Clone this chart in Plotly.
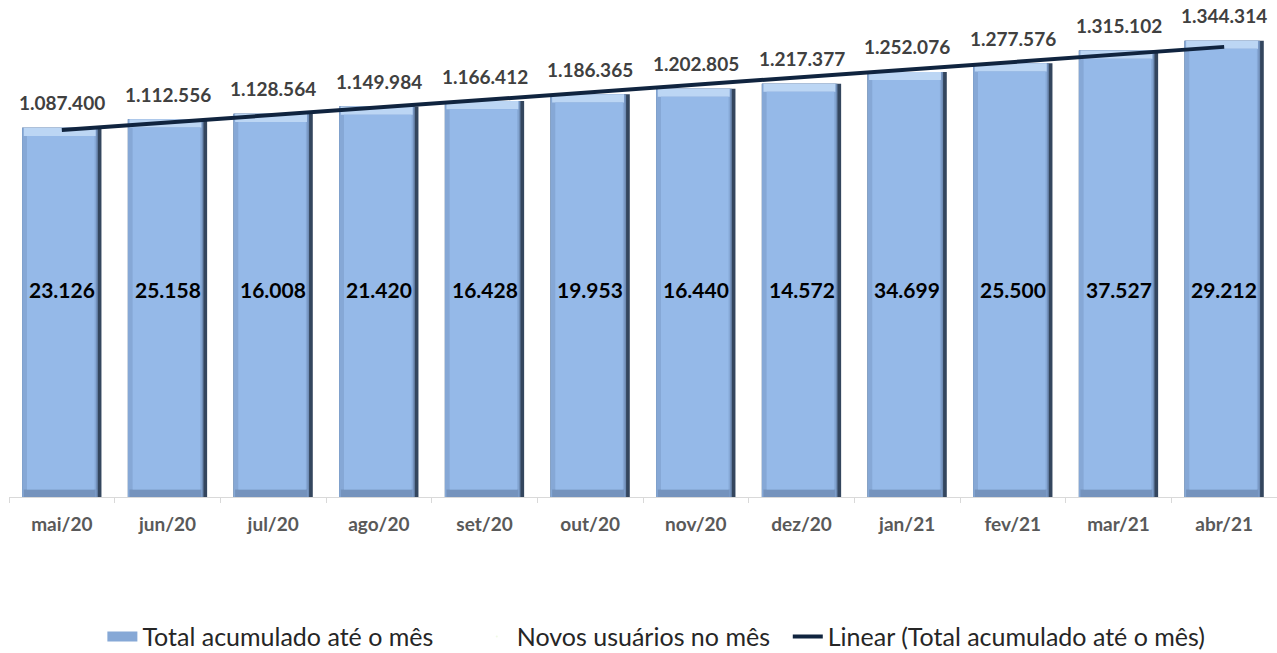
import numpy as np
import plotly.graph_objects as go

months = ["mai/20", "jun/20", "jul/20", "ago/20", "set/20", "out/20",
          "nov/20", "dez/20", "jan/21", "fev/21", "mar/21", "abr/21"]
total = [1087400, 1112556, 1128564, 1149984, 1166412, 1186365,
         1202805, 1217377, 1252076, 1277576, 1315102, 1344314]
novos = [23126, 25158, 16008, 21420, 16428, 19953,
         16440, 14572, 34699, 25500, 37527, 29212]


def br(n):
    # 1087400 -> 1.087.400
    return f"{n:,}".replace(",", ".")


tot = np.array(total, dtype=float)
n = len(months)
FONT = "Lato"
TOP = 24000   # height of the light top bevel
BOT = 22000   # height of the darker bottom bevel
NB = "\u00a0"

fig = go.Figure()

# bevelled bars built from overlaid layers
fig.add_trace(go.Bar(x=months, y=tot, width=0.75, marker_color="#34465e",
                     marker_line_width=0, showlegend=False, hoverinfo="skip"))
fig.add_trace(go.Bar(x=months, y=tot, width=0.715, offset=-0.375,
                     marker_color="#6f8db6", marker_line_width=0,
                     showlegend=False, hoverinfo="skip"))
fig.add_trace(go.Bar(x=months, y=tot, width=0.70, offset=-0.375,
                     marker_color="#86a8d6", marker_line_width=0,
                     showlegend=False, hoverinfo="skip"))
fig.add_trace(go.Bar(x=months, y=[TOP] * n, base=tot - TOP, width=0.68,
                     offset=-0.36, marker_color="#bcd6f4", marker_line_width=0,
                     showlegend=False, hoverinfo="skip"))
fig.add_trace(go.Bar(x=months, y=[BOT] * n, base=[0] * n, width=0.68,
                     offset=-0.36, marker_color="#7593bd", marker_line_width=0,
                     showlegend=False, hoverinfo="skip"))
fig.add_trace(go.Bar(x=months, y=tot - BOT - TOP, base=[BOT] * n,
                     width=0.64, offset=-0.33, marker_color="#95b9e8",
                     marker_line_width=0, showlegend=False))

# legend entries (a wide swatch for the bars, an empty one for the text series)
fig.add_trace(go.Scatter(x=[None], y=[None], mode="lines",
                         line=dict(color="#86a8d6", width=10),
                         name="Total acumulado até o mês" + NB * 6))
fig.add_trace(go.Scatter(x=[None], y=[None], mode="markers",
                         marker=dict(opacity=0, size=1),
                         name="Novos usuários no mês" + NB * 2))

# linear trendline of the cumulative total
k, b0 = np.polyfit(np.arange(n), tot, 1)
fig.add_trace(go.Scatter(x=months, y=k * np.arange(n) + b0, mode="lines",
                         line=dict(color="#10243f", width=4),
                         name="Linear (Total acumulado até o mês)"))

for m, t, v in zip(months, total, novos):
    fig.add_annotation(x=m, y=t, text=br(t), showarrow=False, yshift=25,
                       font=dict(family=FONT, size=19, color="#404040",
                                 weight="bold"))
    fig.add_annotation(x=m, y=610000, text=br(v), showarrow=False,
                       font=dict(family=FONT, size=21, color="#000000",
                                 weight="bold"))

fig.update_layout(
    width=1277, height=653,
    margin=dict(l=9, r=0, t=0, b=156),
    barmode="overlay", bargap=0.25,
    plot_bgcolor="white", paper_bgcolor="white",
    font=dict(family=FONT, color="#262626"),
    showlegend=True,
    legend=dict(orientation="h", xref="container", yref="container",
                x=0.514, xanchor="center", y=0.06, yanchor="top",
                font=dict(size=25, color="#262626"),
                itemwidth=30, traceorder="normal"),
)
fig.update_xaxes(showline=True, linecolor="#d9d9d9", linewidth=1,
                 ticks="outside", tickson="boundaries", ticklen=5,
                 tickcolor="#d9d9d9", ticklabelstandoff=10,
                 tickfont=dict(family=FONT, size=19, color="#595959",
                               weight="bold"))
fig.update_yaxes(range=[0, 1464000], visible=False, showgrid=False)

# drop the default 8px body margin so the figure fills the window
fig.write_html("out.html", config={"displayModeBar": False},
               post_script="document.body.style.margin='0';")
